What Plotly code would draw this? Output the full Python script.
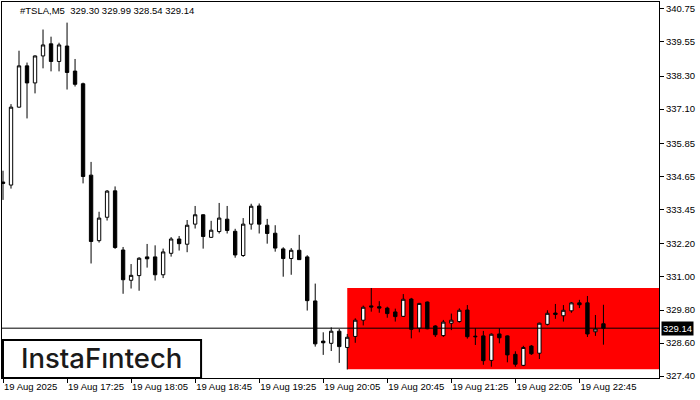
import plotly.graph_objects as go

# ---- data ----
open_ = [334.45, 334.34, 337.17, 338.67, 338.05, 339.03, 339.47, 338.83, 339.39, 338.48,
         338.02, 334.70, 332.32, 333.17, 334.13, 331.98, 330.88, 331.05, 331.73, 331.73,
         331.08, 331.86, 332.38, 332.19, 332.92, 333.26, 332.44, 332.65, 333.10, 332.66,
         331.78, 332.92, 333.58, 332.88, 332.59, 332.02, 331.67, 331.97, 331.73, 330.13,
         328.67, 328.59, 329.03, 328.44, 328.84, 329.43, 329.95, 329.92, 329.87, 329.73,
         329.57, 330.20, 329.14, 330.09, 329.22, 328.87, 329.32, 329.38, 329.80, 328.85,
         328.86, 327.97, 328.93, 328.86, 328.19, 327.79, 328.49, 328.23, 329.28, 329.69,
         329.59, 329.77, 330.06, 330.06, 329.01, 329.30]
high_ = [334.86, 337.28, 339.22, 338.79, 339.05, 339.99, 339.73, 339.51, 340.24, 338.92,
         338.06, 335.18, 333.37, 334.16, 334.29, 332.09, 331.47, 331.72, 332.20, 332.15,
         332.03, 332.45, 332.49, 333.07, 333.58, 333.28, 333.04, 333.69, 333.58, 332.75,
         333.14, 333.66, 333.67, 333.11, 332.88, 332.08, 332.05, 332.53, 331.79, 330.76,
         328.99, 329.17, 329.11, 328.93, 329.50, 329.96, 330.60, 330.12, 329.92, 329.85,
         330.38, 330.24, 330.06, 330.11, 329.25, 329.44, 329.67, 329.86, 329.98, 329.14,
         329.04, 328.95, 329.14, 328.88, 328.30, 328.50, 328.53, 329.34, 329.79, 330.02,
         329.98, 330.09, 330.17, 330.31, 329.62, 329.99]
low_ = [333.80, 334.21, 337.15, 336.76, 337.67, 338.58, 338.47, 338.47, 337.81, 337.92,
        334.40, 331.49, 332.25, 333.05, 332.02, 330.39, 330.58, 330.50, 331.34, 330.87,
        330.96, 331.74, 331.96, 331.90, 332.76, 332.03, 332.42, 332.58, 332.58, 331.70,
        331.73, 332.72, 332.58, 332.21, 331.92, 331.01, 331.08, 331.62, 329.78, 328.47,
        328.17, 328.31, 327.88, 327.64, 328.61, 329.24, 329.74, 329.70, 329.52, 329.38,
        329.55, 328.77, 328.99, 329.10, 328.82, 328.82, 329.07, 329.34, 328.76, 328.53,
        327.81, 327.74, 328.59, 327.90, 327.74, 327.76, 328.17, 328.02, 329.24, 329.48,
        329.38, 329.70, 329.87, 328.82, 328.86, 328.54]
close_ = [334.40, 337.17, 338.67, 338.05, 339.03, 339.43, 338.83, 339.43, 338.43, 338.00,
          334.65, 332.29, 333.14, 334.12, 332.07, 330.90, 331.06, 331.68, 331.66, 331.08,
          331.91, 332.38, 332.21, 332.88, 333.26, 332.47, 332.70, 333.14, 332.69, 331.80,
          332.92, 333.57, 332.92, 332.58, 332.05, 331.67, 331.97, 331.63, 330.14, 328.57,
          328.61, 329.03, 328.47, 328.81, 329.43, 329.90, 329.91, 329.87, 329.67, 329.56,
          330.19, 329.10, 330.04, 329.12, 328.90, 329.36, 329.43, 329.79, 328.83, 328.83,
          327.96, 328.92, 328.79, 328.17, 327.83, 328.44, 328.21, 329.32, 329.68, 329.64,
          329.79, 330.06, 329.99, 328.93, 329.11, 329.14]

bar_index = list(range(len(open_)))

x_tick_pos = [0, 8, 16, 24, 32, 40, 48, 56, 64, 72]
x_tick_text = ["19 Aug 2025", "19 Aug 17:25", "19 Aug 18:05", "19 Aug 18:45",
               "19 Aug 19:25", "19 Aug 20:05", "19 Aug 20:45", "19 Aug 21:25",
               "19 Aug 22:05", "19 Aug 22:45"]

y_tick_vals = [340.75, 339.55, 338.30, 337.10, 335.85, 334.65, 333.45, 332.20,
               331.00, 329.80, 328.60, 327.40]
y_tick_text = ["340.75", "339.55", "338.30", "337.10", "335.85", "334.65", "333.45",
               "332.20", "331.00", "329.80", "328.60", "327.40"]

symbol_header = "#TSLA,M5  329.30 329.99 328.54 329.14"
last_price = 329.14
last_price_text = "329.14"
zone_start_index = 43
zone_top = 330.60
zone_bottom = 327.65
brand = "InstaF\u0131ntech"

FONT = "Liberation Sans"

fig = go.Figure()
fig.add_trace(go.Candlestick(
    x=bar_index, open=open_, high=high_, low=low_, close=close_,
    increasing=dict(line=dict(color="black", width=1), fillcolor="white"),
    decreasing=dict(line=dict(color="black", width=1), fillcolor="black"),
    whiskerwidth=0, hoverinfo="skip", showlegend=False,
))

shapes = [
    dict(type="rect", xref="x", yref="y", x0=zone_start_index, x1=200,
         y0=zone_bottom, y1=zone_top, fillcolor="#FF0000", line=dict(width=0),
         layer="below"),
    dict(type="line", xref="paper", yref="y", x0=0, x1=1, y0=last_price, y1=last_price,
         line=dict(color="black", width=1), layer="above"),
    dict(type="rect", xref="paper", yref="paper", x0=0.0015, x1=0.303, y0=0.0, y1=0.101,
         fillcolor="white", line=dict(color="black", width=2), layer="above"),
]

annotations = [
    dict(text=symbol_header, xref="paper", yref="paper", x=0.0245, y=0.977,
         xanchor="left", yanchor="middle", showarrow=False,
         font=dict(family=FONT, size=9.5, color="black")),
    dict(text=last_price_text, xref="paper", yref="y", x=1, y=last_price,
         xanchor="left", yanchor="middle", xshift=2, showarrow=False,
         bgcolor="black", borderpad=1,
         font=dict(family=FONT, size=9.5, color="white")),
    dict(text=brand, xref="paper", yref="paper", x=0.151, y=0.052,
         xanchor="center", yanchor="middle", showarrow=False,
         font=dict(family="Inter", size=27.5, color="#1a1a1a", weight=500)),
]

fig.update_layout(
    width=700, height=400,
    margin=dict(l=2, r=41, t=2, b=22, pad=0, autoexpand=False),
    paper_bgcolor="white", plot_bgcolor="white",
    boxgap=0.4,
    shapes=shapes, annotations=annotations,
    font=dict(family=FONT, size=9.5, color="black"),
    xaxis=dict(range=[-0.125, 81.94], rangeslider=dict(visible=False),
               tickmode="array", tickvals=x_tick_pos, ticktext=x_tick_text,
               ticks="outside", ticklen=4, tickcolor="black", tickangle=0,
               ticklabelposition="outside right", automargin=False,
               showline=True, linecolor="black", linewidth=1, mirror=True,
               showgrid=False, zeroline=False, fixedrange=True),
    yaxis=dict(range=[327.33, 340.99], side="right", automargin=False,
               tickmode="array", tickvals=y_tick_vals, ticktext=y_tick_text,
               ticks="outside", ticklen=4, tickcolor="black",
               showline=True, linecolor="black", linewidth=1, mirror=True,
               showgrid=False, zeroline=False, fixedrange=True),
)

fig.write_html(
    "out.html",
    config={"displayModeBar": False, "staticPlot": True},
    post_script="document.body.style.margin='0';document.body.style.overflow='hidden';",
)
